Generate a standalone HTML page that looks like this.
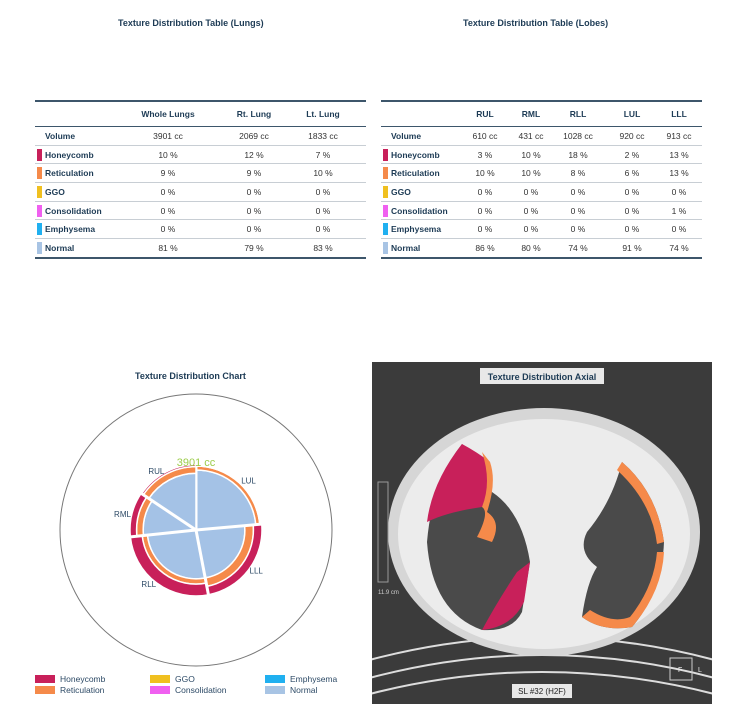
<!DOCTYPE html>
<html><head><meta charset="utf-8">
<style>
body{margin:0;width:729px;height:717px;background:#fff;font-family:"Liberation Sans",sans-serif;position:relative;overflow:hidden;color:#1d3b55}
.t{position:absolute;font-size:9px;font-weight:bold;color:#1d3b55;white-space:nowrap}
table.tb{position:absolute;top:100px;border-collapse:collapse;table-layout:fixed;font-size:8.5px}
.tb th{height:24px;color:#1d3b55;font-weight:bold;text-align:center;border-top:2px solid #3d566b;border-bottom:1.5px solid #3d566b;padding:0}
.tb td{height:17.7px;text-align:center;color:#333;border-bottom:1px solid #c8ced4;padding:0;white-space:nowrap}
.tb tr:last-child td{border-bottom:2px solid #3d566b}
.tb td.lb{text-align:left;font-weight:bold;color:#1d3b55;position:relative;padding-left:10px}
.sw{position:absolute;left:2px;top:3px;width:5px;height:12px}
</style></head><body>
<div class="t" style="left:118px;top:18px">Texture Distribution Table (Lungs)</div>
<div class="t" style="left:463px;top:18px">Texture Distribution Table (Lobes)</div>

<table class="tb" style="left:35px;width:331px">
<colgroup><col style="width:90px"><col style="width:86px"><col style="width:86px"><col style="width:52px"><col style="width:17px"></colgroup>
<tr><th></th><th>Whole Lungs</th><th>Rt. Lung</th><th>Lt. Lung</th><th></th></tr>
<tr><td class="lb">Volume</td><td>3901 cc</td><td>2069 cc</td><td>1833 cc</td><td></td></tr>
<tr><td class="lb"><span class="sw" style="background:#c8205a"></span>Honeycomb</td><td>10 %</td><td>12 %</td><td>7 %</td><td></td></tr>
<tr><td class="lb"><span class="sw" style="background:#f58a4a"></span>Reticulation</td><td>9 %</td><td>9 %</td><td>10 %</td><td></td></tr>
<tr><td class="lb"><span class="sw" style="background:#f0c020"></span>GGO</td><td>0 %</td><td>0 %</td><td>0 %</td><td></td></tr>
<tr><td class="lb"><span class="sw" style="background:#f060f0"></span>Consolidation</td><td>0 %</td><td>0 %</td><td>0 %</td><td></td></tr>
<tr><td class="lb"><span class="sw" style="background:#20b0f0"></span>Emphysema</td><td>0 %</td><td>0 %</td><td>0 %</td><td></td></tr>
<tr><td class="lb"><span class="sw" style="background:#a8c4e4"></span>Normal</td><td>81 %</td><td>79 %</td><td>83 %</td><td></td></tr>
</table>

<table class="tb" style="left:381px;width:321px">
<colgroup><col style="width:80px"><col style="width:48px"><col style="width:44px"><col style="width:50px"><col style="width:58px"><col style="width:36px"><col style="width:5px"></colgroup>
<tr><th></th><th>RUL</th><th>RML</th><th>RLL</th><th>LUL</th><th>LLL</th><th></th></tr>
<tr><td class="lb">Volume</td><td>610 cc</td><td>431 cc</td><td>1028 cc</td><td>920 cc</td><td>913 cc</td><td></td></tr>
<tr><td class="lb"><span class="sw" style="background:#c8205a"></span>Honeycomb</td><td>3 %</td><td>10 %</td><td>18 %</td><td>2 %</td><td>13 %</td><td></td></tr>
<tr><td class="lb"><span class="sw" style="background:#f58a4a"></span>Reticulation</td><td>10 %</td><td>10 %</td><td>8 %</td><td>6 %</td><td>13 %</td><td></td></tr>
<tr><td class="lb"><span class="sw" style="background:#f0c020"></span>GGO</td><td>0 %</td><td>0 %</td><td>0 %</td><td>0 %</td><td>0 %</td><td></td></tr>
<tr><td class="lb"><span class="sw" style="background:#f060f0"></span>Consolidation</td><td>0 %</td><td>0 %</td><td>0 %</td><td>0 %</td><td>1 %</td><td></td></tr>
<tr><td class="lb"><span class="sw" style="background:#20b0f0"></span>Emphysema</td><td>0 %</td><td>0 %</td><td>0 %</td><td>0 %</td><td>0 %</td><td></td></tr>
<tr><td class="lb"><span class="sw" style="background:#a8c4e4"></span>Normal</td><td>86 %</td><td>80 %</td><td>74 %</td><td>91 %</td><td>74 %</td><td></td></tr>
</table>

<div class="t" style="left:135px;top:371px">Texture Distribution Chart</div>
<svg id="pie" width="370" height="300" style="position:absolute;left:0;top:380px"></svg>
<div id="legend"></div>

<svg width="340" height="342" style="position:absolute;left:372px;top:362px">
<rect width="340" height="342" fill="#3b3b3b"/>
<path d="M-10 300 Q170 250 350 300" stroke="#ddd" stroke-width="2" fill="none"/>
<path d="M-10 318 Q170 268 350 318" stroke="#ddd" stroke-width="2" fill="none"/>
<path d="M-10 334 Q170 286 350 334" stroke="#ddd" stroke-width="2" fill="none"/>
<ellipse cx="172" cy="170" rx="156" ry="124" fill="#d6d6d6"/>
<ellipse cx="172" cy="172" rx="146" ry="115" fill="#ececec"/>
<path d="M90 82 Q60 120 55 180 Q60 250 110 268 Q140 270 150 250 L158 200 Q150 150 120 130 Q110 100 90 82Z" fill="#4a4a4a"/>
<path d="M90 82 Q60 120 55 160 Q75 150 110 145 Q120 120 118 100 Q105 90 90 82Z" fill="#c8205a"/>
<path d="M118 100 Q125 120 115 150 Q130 160 120 180 L105 175 Q118 150 110 145 Q120 120 110 90Z" fill="#f58a4a"/>
<path d="M145 210 L158 200 L152 240 Q140 265 110 268 Q125 240 145 210Z" fill="#c8205a"/>
<path d="M250 100 Q285 130 292 180 Q290 230 260 265 Q230 270 210 255 Q215 220 225 205 Q205 190 215 170 Q240 140 250 100Z" fill="#4a4a4a"/>
<path d="M250 100 Q285 130 292 180 L285 182 Q280 140 245 108Z" fill="#f58a4a"/>
<path d="M292 190 Q290 230 260 265 Q230 270 210 255 L218 248 Q240 262 258 255 Q282 225 285 190Z" fill="#f58a4a"/>
<rect x="108" y="6" width="124" height="16" fill="#e8e8e8"/>
<text x="170" y="18" text-anchor="middle" font-size="9" font-weight="bold" fill="#1d3b55" font-family="Liberation Sans">Texture Distribution Axial</text>
<rect x="140" y="322" width="60" height="14" fill="#e8e8e8"/>
<text x="170" y="332" text-anchor="middle" font-size="8" fill="#222" font-family="Liberation Sans">SL #32 (H2F)</text>
<rect x="298" y="296" width="22" height="22" fill="none" stroke="#ccc"/>
<text x="306" y="310" font-size="7" fill="#eee">F</text>
<text x="326" y="310" font-size="7" fill="#eee">L</text>
<rect x="6" y="120" width="10" height="100" fill="none" stroke="#999"/>
<text x="6" y="232" font-size="6" fill="#ccc">11.9 cm</text>
</svg>

<script>
var pieOrder=["LUL","LLL","RLL","RML","RUL"];
var pieVolumes=[920,913,1028,431,610];
var pieNormal=[91,74,74,80,86];
var pieRetic=[6,13,8,10,10];
var pieHoney=[2,13,18,10,3];
var totalLabel="3901 cc";
var svg=document.getElementById('pie');var NS='http://www.w3.org/2000/svg';
var cx=196,cy=150,R=66;
function el(t,a){var e=document.createElementNS(NS,t);for(var k in a)e.setAttribute(k,a[k]);svg.appendChild(e);return e;}
var oring=el('circle',{cx:cx,cy:cy,r:136,fill:'none',stroke:'#777','stroke-width':1});


function pt(r,a){return [cx+r*Math.sin(a),cy-r*Math.cos(a)];}
function sector(r0,r1,a0,a1,fill){
  var big=a1-a0>Math.PI?1:0;var p1=pt(r1,a0),p2=pt(r1,a1);var d;
  if(r0<=0)d='M'+cx+' '+cy+'L'+p1[0]+' '+p1[1]+'A'+r1+' '+r1+' 0 '+big+' 1 '+p2[0]+' '+p2[1]+'Z';
  else{var p3=pt(r0,a1),p4=pt(r0,a0);d='M'+p1[0]+' '+p1[1]+'A'+r1+' '+r1+' 0 '+big+' 1 '+p2[0]+' '+p2[1]+'L'+p3[0]+' '+p3[1]+'A'+r0+' '+r0+' 0 '+big+' 0 '+p4[0]+' '+p4[1]+'Z';}
  return el('path',{d:d,fill:fill,stroke:'#fff','stroke-width':1.5});
}
var tot=0;for(var i=0;i<pieVolumes.length;i++)tot+=pieVolumes[i];
var acc=0;
for(var i=0;i<pieOrder.length;i++){
  var n=pieOrder[i];
  var a0=acc/tot*2*Math.PI;acc+=pieVolumes[i];var a1=acc/tot*2*Math.PI;
  var rn=R*pieNormal[i]/100,rr=R*(pieNormal[i]+pieRetic[i])/100,rh=R*(pieNormal[i]+pieRetic[i]+pieHoney[i])/100;
  var p=sector(0,rn,a0,a1,'#a4c2e6');
  
  
  p=sector(rn,rr,a0,a1,'#f58a4a');
  
  
  p=sector(rr,rh,a0,a1,'#c8205a');
  
  
  var sp=pt(R+1,a0);
  var ln=el('line',{x1:cx,y1:cy,x2:sp[0],y2:sp[1],stroke:'#fff','stroke-width':3});
  
  
}
acc=0;
for(var i=0;i<pieOrder.length;i++){
  var a0=acc/tot*2*Math.PI;acc+=pieVolumes[i];var a1=acc/tot*2*Math.PI;
  var am=(a0+a1)/2;var lp=pt(R+1,am);var s=Math.sin(am);
  var tx=el('text',{x:lp[0],y:lp[1]+3,'font-size':8,fill:'#2d4a66','font-family':'Liberation Sans','text-anchor':s>0?'start':'end'});
  tx.textContent=pieOrder[i];
  
  
}
var tl=el('text',{x:cx,y:cy-R+2,'font-size':11,fill:'#9ccc4a','font-family':'Liberation Sans','text-anchor':'middle'});
tl.textContent=totalLabel;


</script>
<script>
var legNames=["Honeycomb","Reticulation","GGO","Consolidation","Emphysema","Normal"];
var legColors=["#c8205a","#f58a4a","#f0c020","#f060f0","#20b0f0","#a8c4e4"];
var Lg=document.getElementById('legend');
for(var i=0;i<legNames.length;i++){
  var col=Math.floor(i/2),row=i%2;var x=35+col*115,y=674+row*11;
  var d=document.createElement('div');d.style.cssText='position:absolute;left:'+x+'px;top:'+y+'px;font-size:8.5px;color:#2d4a66;white-space:nowrap';
  d.innerHTML='<span style="display:inline-block;width:20px;height:8px;background:'+legColors[i]+';vertical-align:-1px;margin-right:5px"></span>'+legNames[i];
  
  
  Lg.appendChild(d);
}
</script>
</body></html>
